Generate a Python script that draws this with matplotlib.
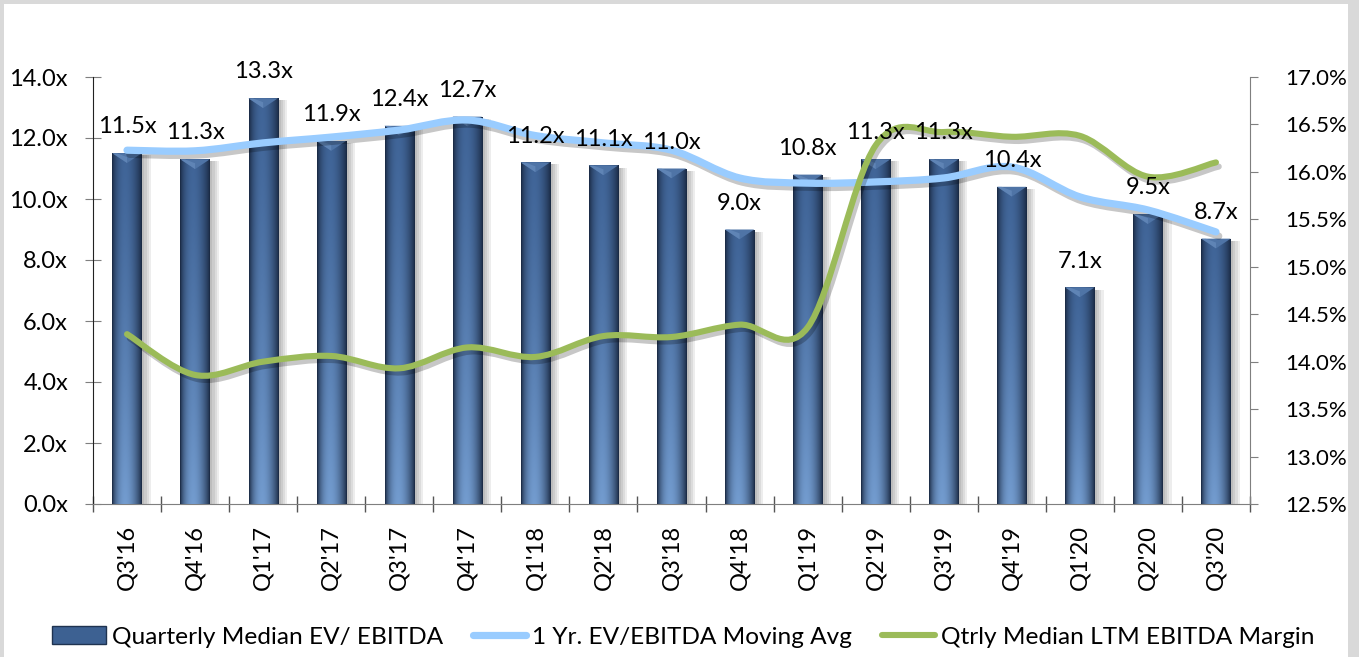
import numpy as np
import matplotlib
matplotlib.use("Agg")
import matplotlib.pyplot as plt
import matplotlib.patheffects as pe
from matplotlib.path import Path
from matplotlib.patches import PathPatch, Rectangle, Patch, Polygon
from matplotlib.lines import Line2D
from matplotlib.ticker import FuncFormatter, MultipleLocator

plt.rcParams["font.family"] = ["Lato", "DejaVu Sans"]

# 数据
quarters = ["Q3'16", "Q4'16", "Q1'17", "Q2'17", "Q3'17", "Q4'17", "Q1'18", "Q2'18", "Q3'18",
            "Q4'18", "Q1'19", "Q2'19", "Q3'19", "Q4'19", "Q1'20", "Q2'20", "Q3'20"]
ev_ebitda = [11.5, 11.3, 13.3, 11.9, 12.4, 12.7, 11.2, 11.1, 11.0, 9.0, 10.8, 11.3, 11.3, 10.4, 7.1, 9.5, 8.7]
moving_avg = [11.6, 11.58, 11.84, 12.03, 12.26, 12.59, 12.08, 11.84, 11.6, 10.69, 10.52, 10.56, 10.69,
              11.05, 10.07, 9.64, 8.92]
ebitda_margin = [14.29, 13.86, 14.0, 14.06, 13.93, 14.15, 14.05, 14.27, 14.26, 14.39, 14.36, 16.28, 16.42,
                 16.37, 16.38, 15.95, 16.1]

BAR_LABEL = "Quarterly Median EV/ EBITDA"
AVG_LABEL = "1 Yr. EV/EBITDA Moving Avg"
MARGIN_LABEL = "Qtrly Median LTM EBITDA Margin"

BLUE_LINE = "#99ccff"
GREEN_LINE = "#9bbb59"
FS = 17


def smooth_path(xs, ys):
    """Excel 风格的平滑曲线 (Bezier)"""
    pts = np.column_stack([xs, ys]).astype(float)
    n = len(pts)
    verts = [pts[0]]
    codes = [Path.MOVETO]
    for i in range(n - 1):
        p0 = pts[i - 1] if i > 0 else pts[i]
        p1 = pts[i]
        p2 = pts[i + 1]
        p3 = pts[i + 2] if i + 2 < n else pts[i + 1]
        c1 = p1 + (p2 - p0) / 6.0
        c2 = p2 - (p3 - p1) / 6.0
        verts += [c1, c2, p2]
        codes += [Path.CURVE4] * 3
    return Path(verts, codes)


def bar_gradient(nx=40, ny=120):
    t = np.linspace(0, 1, nx)
    prof = np.clip(np.sin(np.pi * t) ** 0.7, 0, 1)
    prof = prof * (1 - 0.35 * t)  # 右侧更暗
    v = np.linspace(0, 1, ny)[:, None]  # 0 = 顶部
    edge = np.array([0.10, 0.16, 0.26])
    top = np.array([0.28, 0.44, 0.66])
    bottom = np.array([0.52, 0.70, 0.92])
    center = top + (bottom - top) * v[..., None] ** 1.3
    img = edge + (center - edge) * prof[None, :, None]
    return np.clip(img, 0, 1)


fig = plt.figure(figsize=(13.59, 6.57), dpi=100, facecolor="#d9d9d9")
fig.patches.append(Rectangle((4 / 1359, 0), 1344 / 1359, 653 / 657, transform=fig.transFigure,
                             facecolor="white", edgecolor="none", zorder=-10))

ax = fig.add_axes([93 / 1359, 1 - 504 / 657, (1250 - 93) / 1359, (504 - 77) / 657])
ax.set_facecolor("none")
x = np.arange(len(quarters))

shadow = [pe.SimplePatchShadow(offset=(o, -1.5), alpha=0.07, shadow_rgbFace="black") for o in (2, 3.5, 5, 6.5)]
bars = ax.bar(x, ev_ebitda, width=0.43, color="#34557f", edgecolor="none", zorder=2,
              path_effects=shadow + [pe.Normal()])

grad = bar_gradient()
for b in bars:
    bx, bw, bh = b.get_x(), b.get_width(), b.get_height()
    im = ax.imshow(grad, extent=[bx, bx + bw, 0, bh], aspect="auto", zorder=3, interpolation="bilinear")
    im.set_clip_path(b)
    # 顶部斜角
    dh = 0.32
    ax.add_patch(Polygon([[bx, bh], [bx + bw, bh], [bx + bw / 2, bh - dh]], closed=True,
                         facecolor="#4f74a6", edgecolor="none", zorder=4))
    ax.add_patch(Polygon([[bx, bh], [bx + bw / 2, bh - dh], [bx + bw / 2, bh - dh * 0.4], [bx + bw * 0.15, bh]],
                         closed=True, facecolor="#6a8fc0", edgecolor="none", alpha=0.6, zorder=4))

line_shadow = [pe.SimpleLineShadow(offset=(2, -3), alpha=0.22, shadow_color="black"), pe.Normal()]
avg_patch = PathPatch(smooth_path(x, moving_avg), facecolor="none", edgecolor=BLUE_LINE, lw=5.2,
                      capstyle="round", zorder=6, path_effects=line_shadow)
ax.add_patch(avg_patch)

ax.set_xlim(-0.5, len(quarters) - 0.5)
ax.set_ylim(0, 14)
ax.yaxis.set_major_locator(MultipleLocator(2))
ax.yaxis.set_major_formatter(FuncFormatter(lambda v, p: f"{v:.1f}x"))
ax.set_xticks(np.arange(len(quarters) + 1) - 0.5, minor=True)
ax.set_xticks(x)
ax.set_xticklabels(quarters, rotation=90, fontsize=FS)
ax.tick_params(axis="x", which="major", length=0, pad=15)
ax.tick_params(axis="x", which="minor", direction="inout", length=12, color="#555555", width=1)
ax.tick_params(axis="y", direction="inout", length=12, color="#7f7f7f", labelsize=FS, pad=12)
for s in ("top", "right"):
    ax.spines[s].set_visible(False)
ax.spines["left"].set_color("#222222")
ax.spines["bottom"].set_color("#7f7f7f")

ax2 = ax.twinx()
ax2.set_ylim(12.5, 17.0)
ax2.yaxis.set_major_locator(MultipleLocator(0.5))
ax2.yaxis.set_major_formatter(FuncFormatter(lambda v, p: f"{v:.1f}%"))
margin_patch = PathPatch(smooth_path(x, ebitda_margin), facecolor="none", edgecolor=GREEN_LINE, lw=4.4,
                         capstyle="round", zorder=6, path_effects=line_shadow)
ax2.add_patch(margin_patch)
ax2.tick_params(axis="y", direction="out", length=6, color="#7f7f7f", labelsize=16, pad=19)
for s in ("top", "left", "bottom"):
    ax2.spines[s].set_visible(False)
ax2.spines["right"].set_color("#7f7f7f")

# 数据标签放在次坐标轴上，保证在绿色线之上
for xi, v in zip(x, ev_ebitda):
    ax2.annotate(f"{v:.1f}x", (xi, v), xycoords=ax.transData, xytext=(0, 19), textcoords="offset points",
                 ha="center", va="center", fontsize=FS, zorder=10)

handles = [
    Patch(facecolor="#3d6192", edgecolor="#1f3350", label=BAR_LABEL),
    Line2D([0], [0], color=BLUE_LINE, lw=5.2, solid_capstyle="round", label=AVG_LABEL),
    Line2D([0], [0], color=GREEN_LINE, lw=4.4, solid_capstyle="round", label=MARGIN_LABEL),
]
fig.legend(handles=handles, loc="center", bbox_to_anchor=(0.503, 1 - 637 / 657), ncol=3, frameon=False,
           fontsize=17.6, handlelength=2.2, handletextpad=0.25, columnspacing=1.2)

fig.savefig("out.png", dpi=100, facecolor=fig.get_facecolor())
